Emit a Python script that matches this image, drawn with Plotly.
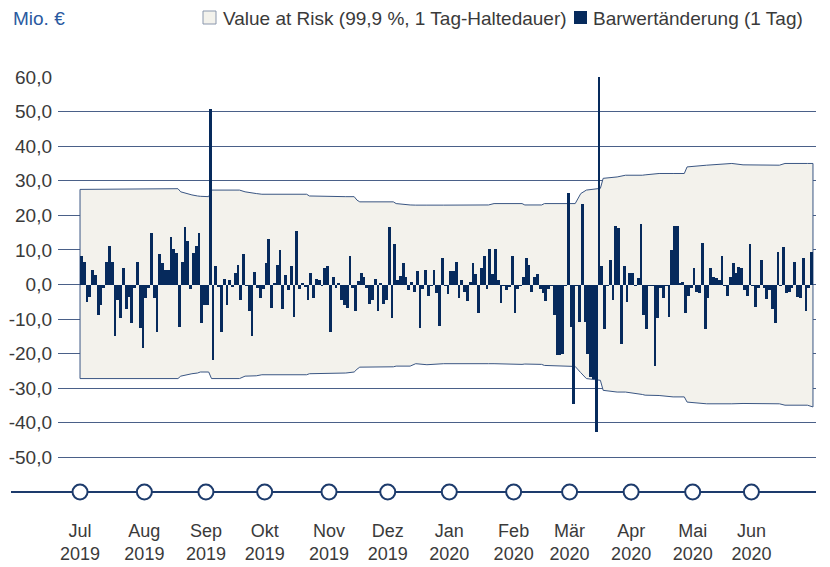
import pandas as pd
import plotly.graph_objects as go

# ---------------- data ----------------
trading_days = pd.bdate_range("2019-07-01", "2020-06-30")

barwert_change = [
    # Jul - early Aug 2019
    8.3, 6.6, -5.0, -3.6, 4.3, 2.7, -8.9, -6.0, -1.0, 6.6, 11.1, 6.6, -14.9, -4.5, -9.8,
    4.9, -7.2, -3.6, -11.0, -1.0, 6.6, -12.5, -18.5, -4.0, -1.0,
    # Aug - Sep 2019
    14.8, -3.9, -13.7, 8.8, 6.1, 4.2, 4.3, 13.8, 10.4, 9.2, -12.3, 6.6, 16.5, 12.6, -1.2,
    9.0, 11.1, 14.8, -11.0, -6.0, -6.0, 50.8, -21.7, 5.3, -0.7, -13.7,
    # Sep - Oct 2019
    1.7, -6.0, 1.2, -0.8, 3.4, 5.6, -4.5, 8.8, -0.5, -7.6, -14.9, 3.7, -1.0, -3.9, -1.2,
    6.1, 13.1, -6.7, 0.5, 5.6, 9.9, -7.1, 2.7, -1.5, 5.4, -9.4,
    # Oct - Nov 2019
    15.4, -1.2, 0.5, -0.8, -4.5, 3.4, -3.9, 1.7, 1.4, -0.5, 4.8, 5.4, -13.7, 2.2, -1.0,
    0.3, -4.5, -6.0, -6.7, 8.2, -1.0, -7.6, 1.1, 3.4, 2.2, -1.0,
    # Nov - Dec 2019
    -5.5, -4.5, 1.7, -7.6, 0.5, -5.5, -4.5, 16.5, -9.8, 11.6, 1.3, 2.5, 6.1, 2.2, -1.6,
    0.8, -2.1, 3.9, -12.5, -1.4, 4.3, -3.4, -0.5, 4.3, -2.4, -12.1,
    # Dec 2019 - Jan 2020
    7.7, -0.5, -2.8, 3.9, 3.9, 6.6, -3.9, 1.4, -2.1, -4.8, 0.7, 6.1, 2.9, -8.2, 4.9,
    8.2, -1.2, 10.4, 3.0, 10.4, 1.4, -5.3, -0.5, -1.6, -0.8, 8.2,
    # Feb - early Mar 2020
    -8.2, -1.2, -0.5, 2.2, 7.7, 5.6, -2.3, 2.2, 3.0, -1.2, -2.6, -4.7, -1.2, -0.5, -8.9,
    -20.3, -20.3, -20.0, -0.5, 26.4, -12.3, -34.5, -0.5, -10.8, 23.2, -10.8, -20.0,
    # Mar - Apr 2020
    -26.7, -27.2, -42.7, 61.0, 5.3, -13.0, -0.5, 7.2, -4.5, 17.0, 16.2, -17.1, 5.3, -5.0, 3.4,
    3.2, -0.5, 2.0, 17.5, -8.9, -13.0, -0.5, -0.5, -23.6, -9.8, -1.0,
    # Apr - May 2020
    -4.0, -0.5, -9.4, 9.9, 17.0, 17.0, 0.3, 0.6, -8.2, -3.4, -1.0, 4.9, -2.1, -2.6, 12.1,
    -13.0, -3.9, 4.9, 2.2, 2.0, 1.4, 8.2, -0.5, -3.4, 2.2, 6.1,
    # May - Jun 2020
    3.2, 5.1, 4.9, -1.6, -3.4, 11.7, -0.5, -6.5, -1.0, 7.2, -1.0, -4.3, -1.6, -7.0, -11.0,
    9.5, -0.5, 10.9, -2.6, -2.1, -1.0, 6.6, -3.6, -3.9, 7.7, -7.6, -1.0, 9.3,
]

var_dates = [
    "2019-07-01", "2019-08-19", "2019-08-20", "2019-08-26", "2019-08-28", "2019-08-29",
    "2019-09-03", "2019-09-04", "2019-09-18", "2019-09-20", "2019-09-26", "2019-09-30",
    "2019-10-22", "2019-10-23", "2019-11-11", "2019-11-14", "2019-11-15", "2019-11-18",
    "2019-12-04", "2019-12-05", "2019-12-12", "2019-12-16", "2019-12-20", "2019-12-30",
    "2020-01-21", "2020-01-23", "2020-02-06", "2020-02-07", "2020-02-17", "2020-02-18",
    "2020-03-04", "2020-03-06", "2020-03-10", "2020-03-17", "2020-03-18", "2020-03-25",
    "2020-03-30", "2020-04-07", "2020-04-08", "2020-04-15", "2020-04-22", "2020-04-28",
    "2020-04-29", "2020-05-08", "2020-05-21", "2020-05-27", "2020-06-15", "2020-06-17",
    "2020-06-29", "2020-07-01",
]
var_upper = [
    27.5, 27.7, 26.8, 25.9, 25.6, 25.5,
    25.4, 27.3, 27.3, 26.8, 26.3, 26.1,
    26.1, 25.6, 25.4, 25.4, 24.4, 23.9,
    23.9, 23.4, 23.0, 22.95, 22.95, 22.95,
    23.0, 23.4, 23.4, 23.0, 23.0, 23.4,
    23.4, 26.3, 27.3, 27.8, 30.7, 31.1,
    31.6, 31.6, 31.7, 32.1, 32.1, 32.1,
    34.0, 34.5, 35.0, 34.6, 34.5, 35.0,
    35.0, 35.0,
]
var_lower = [
    -27.2, -27.2, -26.5, -25.8, -25.6, -25.3,
    -25.3, -27.2, -27.2, -26.5, -26.4, -26.1,
    -26.1, -25.8, -25.6, -25.3, -24.5, -23.9,
    -23.8, -23.6, -23.6, -22.9, -23.2, -22.9,
    -22.9, -22.9, -23.1, -23.0, -23.1, -23.4,
    -23.7, -25.5, -27.2, -27.7, -30.6, -31.1,
    -31.1, -31.8, -32.0, -32.1, -32.5, -32.5,
    -34.0, -34.5, -34.5, -34.4, -34.5, -34.9,
    -34.9, -35.4,
]

month_ticks = pd.date_range("2019-07-01", "2020-06-30", freq="BMS")
month_labels = ["Jul<br>2019", "Aug<br>2019", "Sep<br>2019", "Okt<br>2019", "Nov<br>2019",
                "Dez<br>2019", "Jan<br>2020", "Feb<br>2020", "Mär<br>2020", "Apr<br>2020",
                "Mai<br>2020", "Jun<br>2020"]

y_ticks = [-50, -40, -30, -20, -10, 0, 10, 20, 30, 40, 50, 60]
y_labels = ["-50,0", "-40,0", "-30,0", "-20,0", "-10,0", "0,0",
            "10,0", "20,0", "30,0", "40,0", "50,0", "60,0"]

# ---------------- styling ----------------
NAVY = "#062a5c"
LINE = "#1d3b6c"
GRID = "#4a6088"
BAND = "#f3f2ec"
BAND_EDGE = "#3a5683"
TXT = "#3a3a3a"
FONT = "Liberation Sans, Arial, sans-serif"

W, H = 830, 567
ML, MR, MT, MB = 58, 14, 77, 75
PW, PH = W - ML - MR, H - MT - MB


def px_x(px):
    return (px - ML) / PW


def px_y(py):
    return (H - MB - py) / PH


# VaR band outline as a path in data coordinates (upper edge forward, lower edge back)
band_pts = list(zip(var_dates, var_upper)) + list(zip(var_dates[::-1], var_lower[::-1]))
band_path = "M " + " L ".join(f"{d},{v}" for d, v in band_pts) + " Z"

fig = go.Figure()
fig.add_trace(go.Bar(
    x=trading_days, y=barwert_change, xperiod=86400000, xperiodalignment="middle",
    marker=dict(color=NAVY, line=dict(width=0)), showlegend=False,
))
fig.add_trace(go.Scatter(
    x=month_ticks, y=[-60] * len(month_ticks), mode="markers",
    marker=dict(symbol="circle", size=15, color="white", line=dict(color=LINE, width=2)),
    cliponaxis=False, hoverinfo="skip", showlegend=False,
))

shapes = [
    dict(type="path", xref="x", yref="y", path=band_path, fillcolor=BAND,
         line=dict(color=BAND_EDGE, width=1), layer="between"),
    dict(type="line", xref="paper", yref="y", x0=0, x1=1, y0=0, y1=0,
         line=dict(color=GRID, width=1), layer="between"),
    dict(type="line", xref="paper", yref="paper", x0=px_x(11), x1=1.0, y0=0, y1=0,
         line=dict(color=LINE, width=2), layer="below"),
    dict(type="rect", xref="paper", yref="paper", x0=px_x(203), x1=px_x(216),
         y0=px_y(24), y1=px_y(11), fillcolor=BAND, line=dict(color="#8a97ad", width=1)),
    dict(type="rect", xref="paper", yref="paper", x0=px_x(574), x1=px_x(587),
         y0=px_y(24), y1=px_y(11), fillcolor=NAVY, line=dict(width=0)),
]
annotations = [
    dict(text="Mio. €", xref="paper", yref="paper", x=px_x(11), y=px_y(18),
         xanchor="left", yanchor="middle", showarrow=False,
         font=dict(family=FONT, size=19, color="#2a5aa0")),
    dict(text="Value at Risk (99,9 %, 1 Tag-Haltedauer)", xref="paper", yref="paper",
         x=px_x(221), y=px_y(18), xanchor="left", yanchor="middle", showarrow=False,
         font=dict(family=FONT, size=19, color=TXT)),
    dict(text="Barwertänderung (1 Tag)", xref="paper", yref="paper",
         x=px_x(591), y=px_y(18), xanchor="left", yanchor="middle", showarrow=False,
         font=dict(family=FONT, size=19, color=TXT)),
]

fig.update_layout(
    width=W, height=H, margin=dict(l=ML, r=MR, t=MT, b=MB, pad=0, autoexpand=False),
    paper_bgcolor="white", plot_bgcolor="white", bargap=0,
    font=dict(family=FONT, size=18, color=TXT),
    shapes=shapes, annotations=annotations, showlegend=False, hovermode=False,
    xaxis=dict(
        type="date", range=["2019-06-19 03:00", "2020-07-02 02:00"],
        rangebreaks=[dict(bounds=["sat", "mon"])],
        tickmode="array", tickvals=month_ticks, ticktext=month_labels,
        showgrid=False, zeroline=False, showline=False, automargin=False,
        ticks="outside", ticklen=22, tickcolor="rgba(0,0,0,0)",
        tickfont=dict(family=FONT, size=18, color=TXT),
    ),
    yaxis=dict(
        range=[-60, 60], tickmode="array", tickvals=y_ticks, ticktext=y_labels,
        showgrid=True, gridcolor=GRID, gridwidth=1, automargin=False,
        zeroline=False, showline=False, ticklabelstandoff=5,
        ticks="", tickfont=dict(family=FONT, size=19, color=TXT),
    ),
)

fig.write_html(
    "out.html",
    config={"displayModeBar": False, "staticPlot": True},
    post_script="document.body.style.margin='0px';document.body.style.padding='0px';",
)
